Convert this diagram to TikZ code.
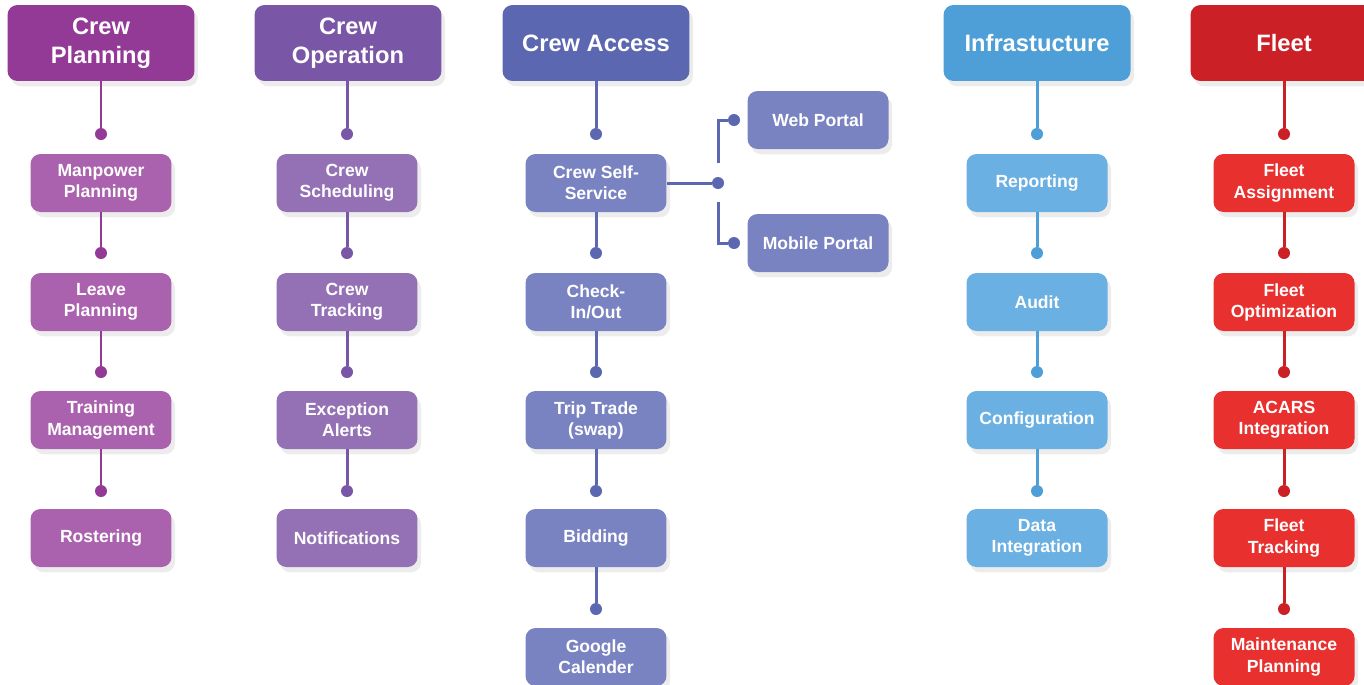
\documentclass[tikz,border=0pt]{standalone}
\usepackage{fontspec}
\setmainfont{Liberation Sans}
\usetikzlibrary{shadows}

\definecolor{planH}{HTML}{933A96}
\definecolor{planS}{HTML}{AB62AE}
\definecolor{operH}{HTML}{7A56A6}
\definecolor{operS}{HTML}{9471B4}
\definecolor{accH}{HTML}{5B67B1}
\definecolor{accS}{HTML}{7A83C2}
\definecolor{infH}{HTML}{4E9ED8}
\definecolor{infS}{HTML}{6AB0E2}
\definecolor{fltH}{HTML}{CC2027}
\definecolor{fltS}{HTML}{E8302F}

\begin{document}
\begin{tikzpicture}
        [x=0.02cm, y=-0.02cm,
        head/.style={rectangle, rounded corners=0.2cm, minimum width=3.74cm, minimum height=1.52cm,
            fill=#1, text=white, align=center, font=\fontsize{13.5}{16.5}\selectfont\bfseries,
            drop shadow={opacity=0.15, shadow xshift=2pt, shadow yshift=-3pt}},
        item/.style={rectangle, rounded corners=0.2cm, minimum width=2.82cm, minimum height=1.16cm,
            fill=#1, text=white, align=center, font=\fontsize{10}{12}\selectfont\bfseries,
            drop shadow={opacity=0.15, shadow xshift=2pt, shadow yshift=-3pt}},
        dot/.style={circle, fill=#1, inner sep=0pt, minimum size=0.24cm},
        link/.style={line width=1.7pt, draw=#1}]
        \clip (0,0) rectangle (1364,684);

        % Crew Planning
        \node[head=planH] (P) at (101,43) {Crew\\Planning};
        \node[item=planS] (P1) at (101,183) {Manpower\\Planning};
        \node[item=planS] (P2) at (101,302) {Leave\\Planning};
        \node[item=planS] (P3) at (101,420) {Training\\Management};
        \node[item=planS] (P4) at (101,538) {Rostering};
        \node[dot=planH] (p1) at (101,134) {};
        \node[dot=planH] (p2) at (101,253) {};
        \node[dot=planH] (p3) at (101,372) {};
        \node[dot=planH] (p4) at (101,491) {};
        \draw[link=planH] (P) -- (p1);
        \draw[link=planH] (P1) -- (p2);
        \draw[link=planH] (P2) -- (p3);
        \draw[link=planH] (P3) -- (p4);

        % Crew Operation
        \node[head=operH] (O) at (348,43) {Crew\\Operation};
        \node[item=operS] (O1) at (347,183) {Crew\\Scheduling};
        \node[item=operS] (O2) at (347,302) {Crew\\Tracking};
        \node[item=operS] (O3) at (347,420) {Exception\\Alerts};
        \node[item=operS] (O4) at (347,538) {Notifications};
        \node[dot=operH] (o1) at (347,134) {};
        \node[dot=operH] (o2) at (347,253) {};
        \node[dot=operH] (o3) at (347,372) {};
        \node[dot=operH] (o4) at (347,491) {};
        \draw[link=operH] (O.south -| o1) -- (o1);
        \draw[link=operH] (O1) -- (o2);
        \draw[link=operH] (O2) -- (o3);
        \draw[link=operH] (O3) -- (o4);

        % Crew Access
        \node[head=accH] (A) at (596,43) {Crew Access};
        \node[item=accS] (A1) at (596,183) {Crew Self-\\Service};
        \node[item=accS] (A2) at (596,302) {Check-\\In/Out};
        \node[item=accS] (A3) at (596,420) {Trip Trade\\(swap)};
        \node[item=accS] (A4) at (596,538) {Bidding};
        \node[item=accS] (A5) at (596,657) {Google\\Calender};
        \node[dot=accH] (a1) at (596,134) {};
        \node[dot=accH] (a2) at (596,253) {};
        \node[dot=accH] (a3) at (596,372) {};
        \node[dot=accH] (a4) at (596,491) {};
        \node[dot=accH] (a5) at (596,609) {};
        \draw[link=accH] (A) -- (a1);
        \draw[link=accH] (A1) -- (a2);
        \draw[link=accH] (A2) -- (a3);
        \draw[link=accH] (A3) -- (a4);
        \draw[link=accH] (A4) -- (a5);

        \node[item=accS] (W) at (818,120) {Web Portal};
        \node[item=accS] (M) at (818,243) {Mobile Portal};
        \node[dot=accH] (s) at (718,183) {};
        \node[dot=accH] (w) at (734,120) {};
        \node[dot=accH] (m) at (734,243) {};
        \coordinate (wt) at (718,163);
        \coordinate (mt) at (718,202);
        \draw[link=accH] (A1) -- (s);
        \draw[link=accH] (wt) |- (w);
        \draw[link=accH] (mt) |- (m);

        % Infrastructure
        \node[head=infH] (I) at (1037,43) {Infrastucture};
        \node[item=infS] (I1) at (1037,183) {Reporting};
        \node[item=infS] (I2) at (1037,302) {Audit};
        \node[item=infS] (I3) at (1037,420) {Configuration};
        \node[item=infS] (I4) at (1037,538) {Data\\Integration};
        \node[dot=infH] (i1) at (1037,134) {};
        \node[dot=infH] (i2) at (1037,253) {};
        \node[dot=infH] (i3) at (1037,372) {};
        \node[dot=infH] (i4) at (1037,491) {};
        \draw[link=infH] (I) -- (i1);
        \draw[link=infH] (I1) -- (i2);
        \draw[link=infH] (I2) -- (i3);
        \draw[link=infH] (I3) -- (i4);

        % Fleet
        \node[head=fltH] (F) at (1284,43) {Fleet};
        \node[item=fltS] (F1) at (1284,183) {Fleet\\Assignment};
        \node[item=fltS] (F2) at (1284,302) {Fleet\\Optimization};
        \node[item=fltS] (F3) at (1284,420) {ACARS\\Integration};
        \node[item=fltS] (F4) at (1284,538) {Fleet\\Tracking};
        \node[item=fltS] (F5) at (1284,657) {Maintenance\\Planning};
        \node[dot=fltH] (f1) at (1284,134) {};
        \node[dot=fltH] (f2) at (1284,253) {};
        \node[dot=fltH] (f3) at (1284,372) {};
        \node[dot=fltH] (f4) at (1284,491) {};
        \node[dot=fltH] (f5) at (1284,609) {};
        \draw[link=fltH] (F) -- (f1);
        \draw[link=fltH] (F1) -- (f2);
        \draw[link=fltH] (F2) -- (f3);
        \draw[link=fltH] (F3) -- (f4);
        \draw[link=fltH] (F4) -- (f5);
    \end{tikzpicture}
\end{document}
